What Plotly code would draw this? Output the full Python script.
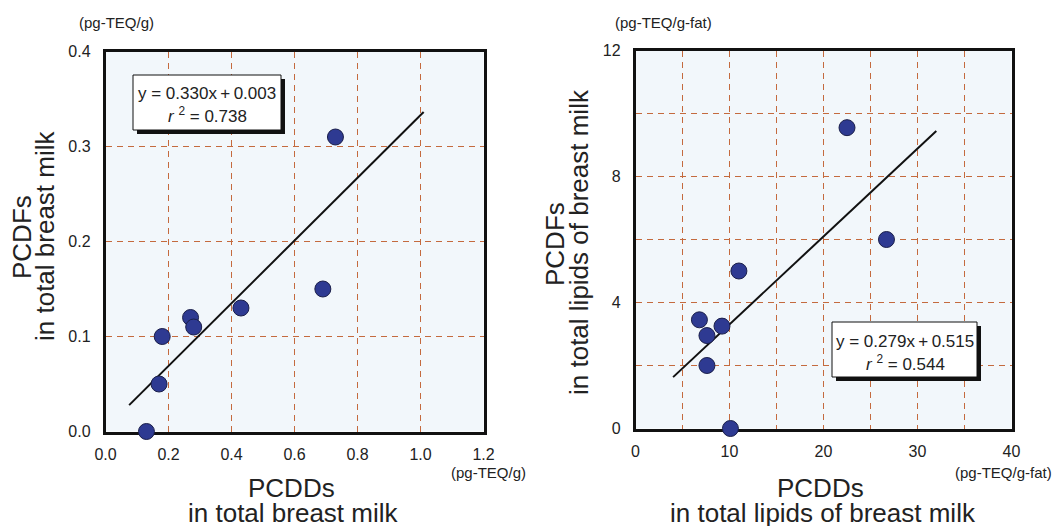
import plotly.graph_objects as go

# ---- data ----
left_x = [0.73, 0.69, 0.43, 0.27, 0.28, 0.18, 0.17, 0.13]
left_y = [0.31, 0.15, 0.13, 0.12, 0.11, 0.10, 0.05, 0.00]
left_slope, left_intercept, left_r2 = 0.330, 0.003, 0.738
left_fit_range = [0.075, 1.01]
left_xticks = [0.0, 0.2, 0.4, 0.6, 0.8, 1.0, 1.2]
left_yticks = [0.0, 0.1, 0.2, 0.3, 0.4]

right_x = [22.5, 26.7, 11.0, 6.8, 9.2, 7.6, 7.6, 10.1]
right_y = [9.55, 6.0, 5.0, 3.45, 3.25, 2.95, 2.0, 0.0]
right_slope, right_intercept, right_r2 = 0.279, 0.515, 0.544
right_fit_range = [4.0, 32.0]
right_xticks = [0, 5, 10, 15, 20, 25, 30, 35, 40]
right_xlabels = ["0", "", "10", "", "20", "", "30", "", "40"]
right_yticks = [0, 2, 4, 6, 8, 10, 12]
right_ylabels = ["0", "", "4", "", "8", "", "12"]

W, H = 1060, 526
OFF = 8  # page body margin
FONT = "Liberation Sans, Arial, sans-serif"
GRID = "#c46a3e"
BG = "#f2f7fb"
MARK = "#2e3a92"


def px(x):
    return (x - OFF) / W


def py(y):
    return 1 - (y - OFF) / H


fig = go.Figure()

# markers + fit lines
for (xs, ys, sl, ic, rng, xa, ya) in [
    (left_x, left_y, left_slope, left_intercept, left_fit_range, "x", "y"),
    (right_x, right_y, right_slope, right_intercept, right_fit_range, "x2", "y2"),
]:
    fig.add_trace(go.Scatter(
        x=rng, y=[sl * v + ic for v in rng], mode="lines",
        line=dict(color="#111111", width=2), xaxis=xa, yaxis=ya,
        showlegend=False, hoverinfo="skip"))
    fig.add_trace(go.Scatter(
        x=xs, y=ys, mode="markers", cliponaxis=False,
        marker=dict(size=16, color=MARK, line=dict(color="#1b1f4a", width=1)),
        xaxis=xa, yaxis=ya, showlegend=False))

axis_common = dict(
    showgrid=True, gridcolor=GRID, griddash="6px,5px", gridwidth=1,
    zeroline=False, showline=True, linecolor="#111111", linewidth=2.5,
    mirror=True, ticks="outside", tickcolor="rgba(0,0,0,0)",
    tickfont=dict(family=FONT, size=16, color="#222222"),
    layer="below traces", automargin=False,
)

fig.update_layout(
    width=W, height=H,
    margin=dict(l=0, r=0, t=0, b=0, autoexpand=False),
    paper_bgcolor="white",
    plot_bgcolor=BG,
    font=dict(family=FONT, color="#222222"),
    xaxis=dict(axis_common, domain=[px(105.5), px(483.5)], range=[0, 1.2],
               tickvals=left_xticks, tickformat=".1f", ticklen=7, anchor="y"),
    yaxis=dict(axis_common, domain=[py(431.5), py(51.5)], range=[0, 0.4],
               tickvals=left_yticks, tickformat=".1f", ticklen=9, anchor="x"),
    xaxis2=dict(axis_common, domain=[px(635.5), px(1011.5)], range=[0, 40],
                tickvals=right_xticks, ticktext=right_xlabels, ticklen=7, anchor="y2"),
    yaxis2=dict(axis_common, domain=[py(428.5), py(50.5)], range=[0, 12],
                tickvals=right_yticks, ticktext=right_ylabels, ticklen=9, anchor="x2"),
)

# equation boxes (shadow + box)
shapes = []
for (x0, y0, x1, y1) in [(133, 75, 281, 130), (832, 322, 977, 377)]:
    shapes.append(dict(type="rect", xref="paper", yref="paper",
                       x0=px(x0 + 4), x1=px(x1 + 4), y0=py(y1 + 4), y1=py(y0 + 4),
                       fillcolor="#111111", line=dict(width=0)))
    shapes.append(dict(type="rect", xref="paper", yref="paper",
                       x0=px(x0), x1=px(x1), y0=py(y1), y1=py(y0),
                       fillcolor="white", line=dict(color="#111111", width=1)))
fig.update_layout(shapes=shapes)

ann = []


def text(x, y, s, size, angle=0, xanchor="center"):
    ann.append(dict(x=px(x), y=py(y), xref="paper", yref="paper", text=s,
                    showarrow=False, xanchor=xanchor, yanchor="middle",
                    textangle=angle, font=dict(family=FONT, size=size, color="#222222")))


TS = "\u2009"
# equations
text(207, 93, f"y = {left_slope:.3f}x{TS}+{TS}{left_intercept:.3f}", 17)
text(207, 115, f"<i>r</i> <sup>2</sup> = {left_r2:.3f}", 17)
text(905, 341, f"y = {right_slope:.3f}x{TS}+{TS}{right_intercept:.3f}", 17)
text(905, 363, f"<i>r</i> <sup>2</sup> = {right_r2:.3f}", 17)

# units
text(116, 23, "(pg-TEQ/g)", 15)
text(663, 23, "(pg-TEQ/g-fat)", 15)
text(488, 472, "(pg-TEQ/g)", 15)
text(1003, 472, "(pg-TEQ/g-fat)", 15)

# axis titles
text(291, 488, "PCDDs", 26)
text(293, 513, "in total breast milk", 26)
text(820, 488, "PCDDs", 26)
text(823, 513, "in total lipids of breast milk", 26)
text(22, 237, "PCDFs", 26, angle=-90)
text(45, 236, "in total breast milk", 26, angle=-90)
text(555, 244, "PCDFs", 26, angle=-90)
text(579, 242, "in total lipids of breast milk", 26, angle=-90)

fig.update_layout(annotations=ann)

fig.write_html("out.html")
